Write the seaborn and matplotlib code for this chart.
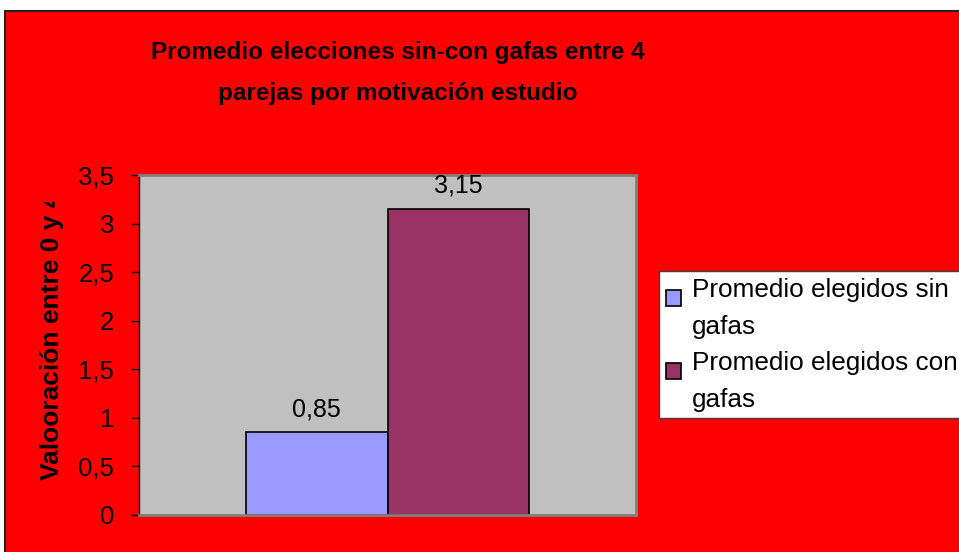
import matplotlib
matplotlib.use("Agg")
import matplotlib.pyplot as plt
import seaborn as sns
import pandas as pd
from matplotlib.patches import Rectangle
from matplotlib.transforms import Bbox
from matplotlib.legend_handler import HandlerPatch

title = "Promedio elecciones sin-con gafas entre 4\nparejas por motivación estudio"
ylabel = "Valooración entre 0 y 4"
series = ["Promedio elegidos sin\ngafas", "Promedio elegidos con\ngafas"]
values = [0.85, 3.15]
value_labels = ["0,85", "3,15"]
yticks = [0, 0.5, 1, 1.5, 2, 2.5, 3, 3.5]
ytick_labels = ["0", "0,5", "1", "1,5", "2", "2,5", "3", "3,5"]
colors = ["#9999FF", "#993366"]

df = pd.DataFrame({"cat": ["" for _ in series], "serie": series, "valor": values})

sns.set_theme(style="white")
plt.rcParams["font.family"] = ["Liberation Sans", "DejaVu Sans"]
plt.rcParams["text.color"] = "black"
plt.rcParams["ytick.color"] = "black"
plt.rcParams["ytick.labelcolor"] = "black"

W, H = 959, 552
fig = plt.figure(figsize=(W / 100, H / 100), dpi=100)
fig.patch.set_facecolor("white")

# red chart area with dark border
bg = Rectangle((5 / W, -0.01), 1.0, 1 - 11 / H + 0.01, transform=fig.transFigure,
               facecolor="#FF0000", edgecolor="#222222", linewidth=1.5, zorder=-10)
fig.add_artist(bg)

ax = fig.add_axes([139 / W, 37 / H, (636 - 139) / W, (515 - 175) / H])
ax.set_zorder(1)
ax.set_facecolor("#C0C0C0")

sns.barplot(data=df, x="cat", y="valor", hue="serie", palette=colors, width=0.571,
            gap=0, edgecolor="black", linewidth=1.2, saturation=1, ax=ax, legend=False)

ax.set_xlim(-0.5, 0.5)
ax.set_ylim(0, 3.5)
ax.set_yticks(yticks)
ax.set_yticklabels(ytick_labels, fontsize=18.5, color="black")
ax.set_xticks([])
ax.set_xlabel("")
ax.set_ylabel("")
ax.tick_params(axis="y", which="both", left=True, length=6, width=1, color="black", pad=12)

for s in ["top", "right", "bottom"]:
    ax.spines[s].set_color("#808080")
    ax.spines[s].set_linewidth(2)
ax.spines["left"].set_color("black")
ax.spines["left"].set_linewidth(1)

for cont, lab in zip(ax.containers, value_labels):
    ax.bar_label(cont, labels=[lab], padding=8, fontsize=18, color="black")

fig.text(398 / W, 1 - 73 / H, title, ha="center", va="center", fontsize=17.5,
         fontweight="bold", color="black",
         family=["Liberation Sans Narrow", "Liberation Sans", "DejaVu Sans"],
         linespacing=1.95, zorder=2)

yl = fig.text(52 / W, 1 - 336 / H, ylabel, rotation=90, ha="center", va="center",
              fontsize=19, fontweight="bold", color="black", zorder=2)
yl.set_clip_box(Bbox.from_extents(0, 0, W, H - 202))
yl.set_clip_on(True)


def top_patch(legend, orig_handle, xdescent, ydescent, width, height, fontsize):
    return Rectangle((-xdescent, -ydescent + 7.5), width, height)


handles = [Rectangle((0, 0), 1, 1, facecolor=c, edgecolor="black", linewidth=1.2) for c in colors]
leg = fig.legend(handles, series, loc="upper left", bbox_to_anchor=(659 / W, 1 - 271 / H),
                 frameon=True, fontsize=18.8, handlelength=0.6, handleheight=0.6,
                 handletextpad=0.4, borderpad=0.25, labelspacing=0.45, fancybox=False,
                 borderaxespad=0, framealpha=1,
                 handler_map={Rectangle: HandlerPatch(patch_func=top_patch)})
leg.set_zorder(3)
leg.get_frame().set_edgecolor("#404040")
leg.get_frame().set_facecolor("white")
leg.get_frame().set_linewidth(1)
for t in leg.get_texts():
    t.set_linespacing(1.7)
    t.set_color("black")

fig.savefig("out.png", dpi=100, facecolor=fig.get_facecolor())
